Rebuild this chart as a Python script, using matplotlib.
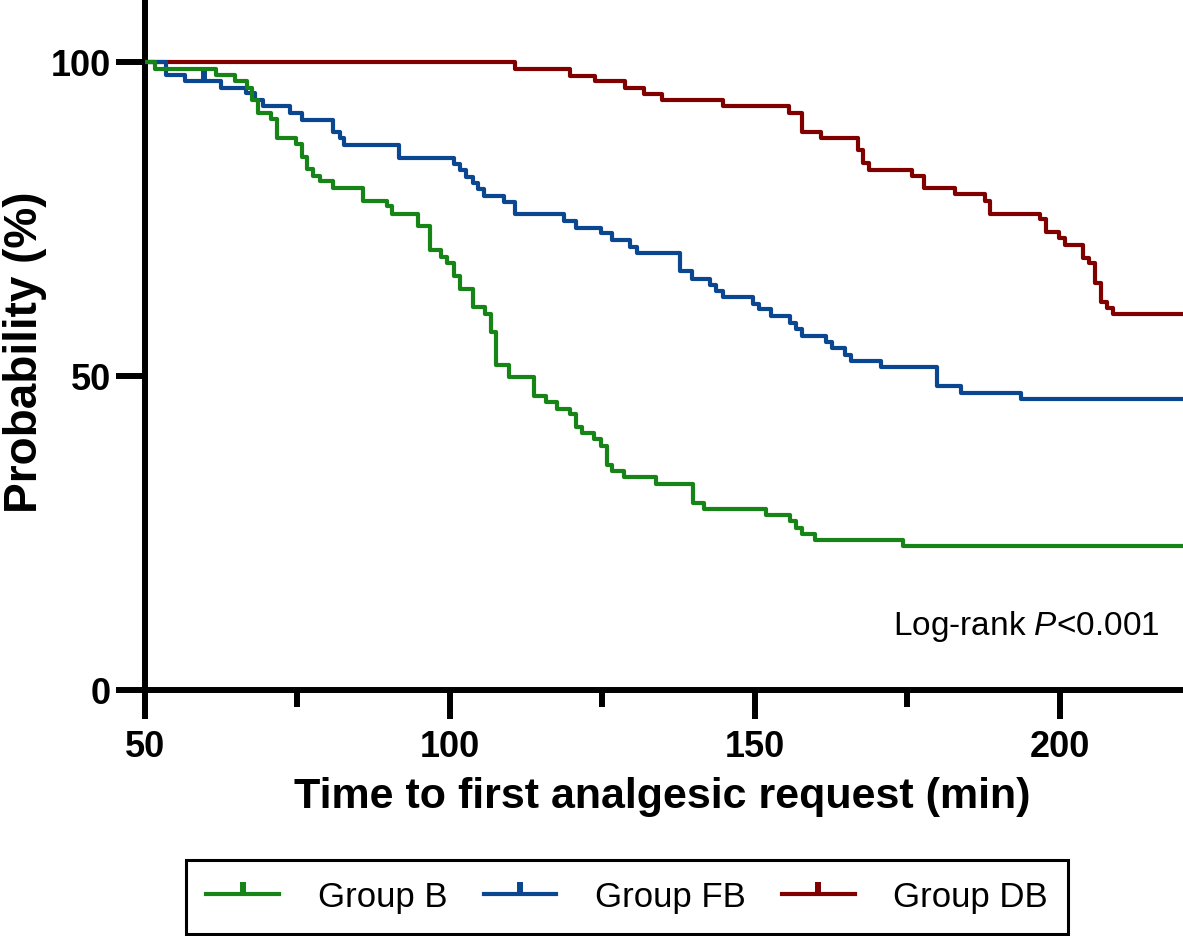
import matplotlib
matplotlib.use("Agg")
import matplotlib.pyplot as plt
from matplotlib.path import Path
from matplotlib.lines import Line2D

plt.rcParams['font.family'] = ['Liberation Sans', 'DejaVu Sans']
plt.rcParams['mathtext.fontset'] = 'custom'
plt.rcParams['mathtext.rm'] = 'Liberation Sans'
plt.rcParams['mathtext.it'] = 'Liberation Sans:italic'

# Kaplan-Meier steps: event times and survival (%) after each
b_time = [50, 51.6, 61.6, 64.7, 66.7, 67.6, 68.6, 70.7, 71.6, 74.7, 75.7, 76.6,
          77.6, 78.7, 80.8, 85.7, 89.6, 90.5, 94.7, 96.7, 98.6, 99.6, 100.6,
          101.6, 103.7, 105.7, 106.7, 107.6, 109.7, 113.8, 115.7, 117.6, 119.7,
          120.6, 121.7, 123.7, 124.7, 125.8, 126.6, 128.6, 133.8, 139.8, 141.7,
          151.8, 155.7, 156.7, 157.7, 159.8, 174.3, 220.2]
b_surv = [100, 98.9, 97.9, 96.9, 95.9, 93.9, 91.8, 90.9, 87.8, 86.9, 84.9, 82.9,
          81.9, 81.0, 79.9, 77.9, 77.0, 75.8, 73.8, 70.0, 68.9, 68.0, 65.9,
          63.9, 60.9, 59.9, 57.0, 51.8, 49.9, 46.8, 45.8, 44.8, 43.9,
          41.8, 40.9, 39.9, 38.8, 35.8, 34.8, 33.9, 32.8, 29.7, 28.8,
          27.9, 26.9, 25.8, 24.9, 23.8, 22.9, 22.9]

fb_time = [50, 53.5, 56.6, 62.5, 66.6, 68.0, 69.4, 73.8, 75.7, 80.8, 81.9, 82.6,
           91.6, 100.6, 101.6, 102.6, 103.7, 104.6, 105.6, 108.8, 110.7, 118.7,
           120.6, 124.7, 126.6, 129.6, 130.7, 137.7, 139.7, 142.7, 143.7, 144.7,
           149.7, 150.7, 152.7, 155.7, 156.7, 157.7, 161.7, 162.7, 164.75,
           165.7, 170.7, 179.8, 183.8, 193.7, 220.2]
fb_surv = [100, 97.9, 96.9, 95.9, 95.0, 93.9, 92.9, 91.8, 90.8, 88.8, 87.8, 86.8,
           84.7, 83.7, 82.7, 81.7, 80.7, 79.8, 78.7, 77.7, 75.7, 74.6,
           73.6, 72.7, 71.7, 70.6, 69.6, 66.7, 65.5, 64.5, 63.5, 62.5,
           61.5, 60.6, 59.5, 58.5, 57.5, 56.4, 55.4, 54.4, 53.4,
           52.4, 51.4, 48.4, 47.3, 46.3, 46.3]
fb_cens_time = [59.7]
fb_cens_surv = [96.9]

db_time = [50, 110.7, 119.7, 123.8, 128.7, 131.8, 134.7, 144.7, 155.6, 157.8,
           160.8, 166.9, 167.7, 168.7, 175.8, 177.8, 182.8, 187.7, 188.6, 196.8,
           197.8, 199.9, 200.8, 203.8, 204.8, 205.7, 206.7, 207.75, 208.7, 220.2]
db_surv = [100, 98.9, 97.8, 96.9, 95.8, 94.9, 93.85, 92.9, 91.8, 88.9,
           87.9, 86.0, 83.9, 82.8, 81.9, 79.9, 78.9, 77.8, 75.8, 74.9,
           72.9, 71.9, 70.9, 68.8, 67.9, 64.8, 61.8, 60.8, 59.8, 59.8]

groups = ['Group B', 'Group FB', 'Group DB']
colors = ['#168416', '#0b4690', '#800000']

tick_marker = Path([(0, 0), (0, 1)], [Path.MOVETO, Path.LINETO])

fig = plt.figure(figsize=(11.83, 9.37), dpi=100)
ax = fig.add_axes([145 / 1183, 246 / 937, 1038 / 1183, 691 / 937])

lw = 3.0
ax.step(db_time, db_surv, where='post', color=colors[2], lw=lw, zorder=2)
ax.step(fb_time, fb_surv, where='post', color=colors[1], lw=lw, zorder=3)
ax.plot(fb_cens_time, fb_cens_surv, ls='none', marker=tick_marker, ms=17,
        mew=4.3, color=colors[1], zorder=3)
ax.step(b_time, b_surv, where='post', color=colors[0], lw=lw, zorder=4)

ax.set_xlim(50, 220.2)
ax.set_ylim(0, 110)
ax.set_xticks([50, 100, 150, 200])
ax.set_xticks([75, 125, 175], minor=True)
ax.set_yticks([0, 50, 100])

for s in ['top', 'right']:
    ax.spines[s].set_visible(False)
for s in ['left', 'bottom']:
    ax.spines[s].set_linewidth(4.3)
    ax.spines[s].set_capstyle('butt')

ax.tick_params(which='major', length=21, width=4.3, labelsize=26)
ax.tick_params(axis='x', which='major', pad=7)
ax.tick_params(axis='y', which='major', pad=3.5)
ax.tick_params(which='minor', length=12, width=4.3)
for lab in ax.get_xticklabels() + ax.get_yticklabels():
    lab.set_fontweight('bold')

ax.set_xlabel('Time to first analgesic request (min)', fontsize=31,
              fontweight='bold')
ax.xaxis.set_label_coords(0.498, -0.125)
ax.set_ylabel('Probability (%)', fontsize=33, fontweight='bold')
ax.yaxis.set_label_coords(-0.094, 0.49)

ax.text(216.4, 10.2, r'Log-rank $P$<0.001', fontsize=24, ha='right',
        va='center')

handles = [Line2D([], [], color=c, lw=lw, marker=tick_marker, ms=17, mew=4.3)
           for c in colors]
leg = fig.legend(handles, groups, loc='center',
                 bbox_to_anchor=(627 / 1183, 1 - 898 / 937), ncol=3,
                 fontsize=25, frameon=True, fancybox=False, framealpha=1,
                 edgecolor='black', handlelength=2.1, handletextpad=1.1,
                 columnspacing=1.05, borderpad=0.6)
leg.get_frame().set_linewidth(2.2)

fig.savefig('out.png', dpi=100)
